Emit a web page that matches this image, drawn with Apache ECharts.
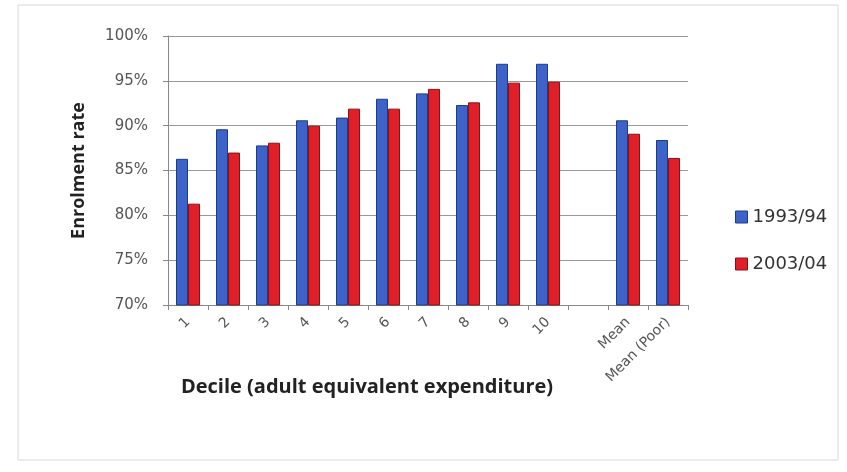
<!DOCTYPE html>
<html><head><meta charset="utf-8">
<script src="https://cdn.jsdelivr.net/npm/echarts@6/dist/echarts.min.js"></script>
<style>html,body{margin:0;padding:0;background:#fff}#c{width:847px;height:472px}</style>
</head><body><div id="c"></div>
<script>
const categories = ['1','2','3','4','5','6','7','8','9','10','','Mean','Mean (Poor)'];
const s1993 = [86.3, 89.6, 87.8, 90.6, 90.9, 93.0, 93.6, 92.3, 96.9, 96.9, null, 90.6, 88.4];
const s2003 = [81.3, 87.0, 88.1, 90.0, 91.9, 91.9, 94.1, 92.6, 94.8, 94.9, null, 89.1, 86.4];
const seriesNames = ['1993/94', '2003/04'];

const chart = echarts.init(document.getElementById('c'));
chart.setOption({
  animation: false,
  backgroundColor: '#fff',
  graphic: [{type:'rect', shape:{x:18,y:5,width:820,height:455}, style:{fill:'none', stroke:'#d8d8d8', lineWidth:1}, silent:true}],
  grid: {left: 168, right: 159, top: 36, bottom: 167},
  legend: {
    orient: 'vertical', left: 730, top: 203, itemGap: 29,
    itemWidth: 12, itemHeight: 12, icon: 'rect', itemStyle: {borderWidth: 1},
    textStyle: {fontFamily: 'DejaVu Sans', fontSize: 18, color: '#333'},
    data: seriesNames
  },
  xAxis: {
    type: 'category', data: categories,
    name: 'Decile (adult equivalent expenditure)', nameLocation: 'middle', nameGap: 72,
    nameMoveOverlap: false,
    nameTextStyle: {fontFamily: 'Open Sans, Liberation Sans', fontSize: 20, fontWeight: 'bold', color: '#222', padding:[0,122,0,0]},
    axisLine: {lineStyle: {color: '#888'}},
    axisTick: {show: true, alignWithLabel: false, lineStyle: {color: '#888'}},
    axisLabel: {rotate: 45, interval: 0, fontFamily: 'DejaVu Sans', fontSize: 14, color: '#555', margin: 15}
  },
  yAxis: {
    type: 'value', min: 70, max: 100, interval: 5,
    name: 'Enrolment rate', nameLocation: 'middle', nameGap: 80, nameRotate: 90,
    nameTextStyle: {fontFamily: 'Open Sans, Liberation Sans', fontSize: 18, fontWeight: 'bold', color: '#222'},
    axisLine: {show: true, lineStyle: {color: '#888'}},
    axisTick: {show: true, lineStyle: {color: '#888'}},
    splitLine: {lineStyle: {color: '#999'}},
    axisLabel: {formatter: v => v + '%', fontFamily: 'DejaVu Sans', fontSize: 15, color: '#555', margin: 20}
  },
  series: [
    {name: seriesNames[0], type: 'bar', data: s1993, barWidth: 12, barGap: '0%',
     itemStyle: {color: '#3d63c9', borderColor: '#1f3a8a', borderWidth: 1}},
    {name: seriesNames[1], type: 'bar', data: s2003, barWidth: 12,
     itemStyle: {color: '#e02028', borderColor: '#8a1016', borderWidth: 1}}
  ]
});
</script></body></html>
